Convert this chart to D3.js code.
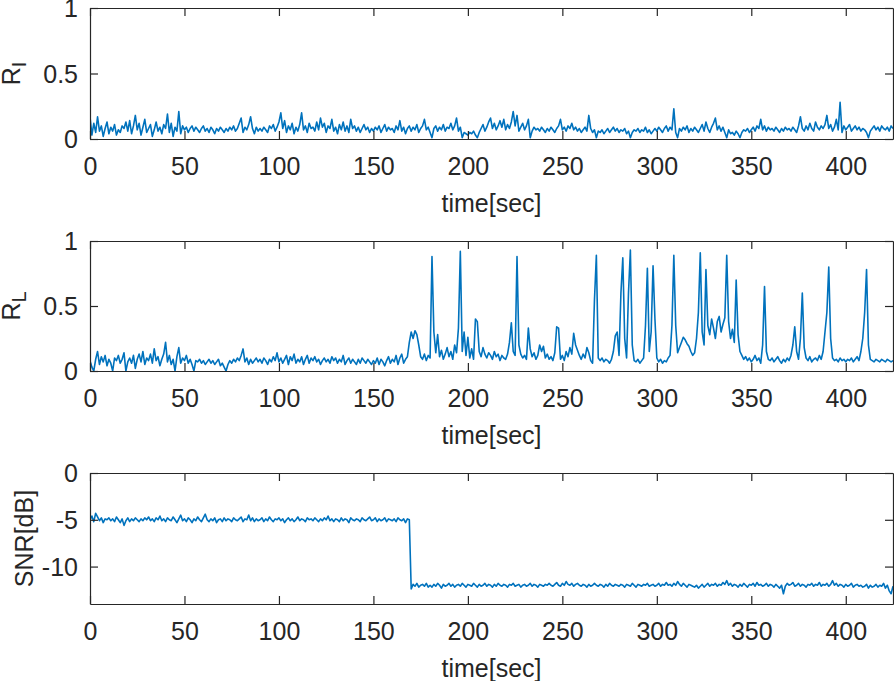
<!DOCTYPE html>
<html><head><meta charset="utf-8">
<script src="https://cdn.jsdelivr.net/npm/d3@7"></script>
<style>
html,body{margin:0;padding:0;background:#fff;}
svg{display:block;font-family:Arial,"Liberation Sans",sans-serif;}
</style></head>
<body><svg id="chart" width="894" height="681"></svg>
<script>
// ---- data (sampled every 1 s, t = 0..425) ----
const xTicks = [0,50,100,150,200,250,300,350,400];
const rTicks = [0,0.5,1];
const snrTicks = [-10,-5,0];
const xLabel = "time[sec]";

const seriesRI = [
0.17,0.03,0.12,0.05,0.17,0.06,0.10,0.02,0.08,0.13,
0.04,0.09,0.06,0.11,0.03,0.07,0.05,0.10,0.08,0.13,
0.06,0.14,0.04,0.10,0.18,0.07,0.12,0.03,0.09,0.15,
0.05,0.08,0.11,0.02,0.07,0.13,0.06,0.09,0.04,0.11,
0.08,0.19,0.05,0.12,0.02,0.09,0.06,0.21,0.04,0.10,
0.07,0.09,0.05,0.08,0.10,0.06,0.09,0.07,0.05,0.08,
0.10,0.06,0.08,0.05,0.09,0.07,0.04,0.08,0.06,0.09,
0.07,0.05,0.08,0.06,0.09,0.07,0.10,0.06,0.08,0.12,
0.16,0.05,0.09,0.07,0.11,0.17,0.08,0.04,0.09,0.06,
0.08,0.06,0.09,0.07,0.05,0.10,0.08,0.11,0.06,0.09,
0.13,0.20,0.08,0.14,0.05,0.10,0.07,0.12,0.04,0.09,
0.06,0.11,0.20,0.07,0.10,0.05,0.12,0.08,0.09,0.06,
0.13,0.07,0.16,0.09,0.12,0.05,0.10,0.08,0.15,0.06,
0.09,0.04,0.11,0.07,0.13,0.06,0.10,0.05,0.15,0.08,
0.10,0.06,0.09,0.05,0.08,0.11,0.07,0.09,0.05,0.08,
0.06,0.09,0.07,0.10,0.05,0.08,0.11,0.06,0.09,0.07,
0.08,0.05,0.10,0.07,0.14,0.06,0.09,0.04,0.08,0.10,
0.06,0.09,0.07,0.11,0.05,0.08,0.10,0.15,0.07,0.09,
0.05,0.01,0.08,0.10,0.06,0.09,0.07,0.11,0.06,0.09,
0.08,0.12,0.07,0.10,0.16,0.06,0.09,0.01,0.05,0.04,
0.03,0.05,0.04,0.06,0.03,0.01,0.05,0.08,0.11,0.06,
0.09,0.13,0.16,0.08,0.12,0.07,0.10,0.14,0.09,0.15,
0.07,0.11,0.08,0.13,0.21,0.10,0.18,0.06,0.09,0.12,
0.07,0.10,0.15,0.01,0.06,0.09,0.07,0.08,0.06,0.09,
0.07,0.05,0.08,0.06,0.09,0.07,0.05,0.08,0.10,0.15,
0.07,0.09,0.06,0.10,0.08,0.12,0.07,0.09,0.06,0.08,
0.05,0.07,0.09,0.06,0.18,0.08,0.05,0.07,0.01,0.06,
0.05,0.07,0.04,0.06,0.08,0.05,0.07,0.09,0.06,0.08,
0.05,0.07,0.06,0.08,0.04,0.06,0.01,0.05,0.07,0.06,
0.08,0.05,0.07,0.06,0.09,0.05,0.07,0.04,0.06,0.08,
0.06,0.09,0.07,0.05,0.08,0.10,0.06,0.09,0.07,0.23,
0.05,0.01,0.08,0.06,0.09,0.07,0.10,0.05,0.08,0.06,
0.09,0.07,0.05,0.08,0.11,0.06,0.13,0.08,0.05,0.09,
0.12,0.16,0.07,0.10,0.06,0.09,0.05,0.01,0.07,0.04,
0.05,0.03,0.06,0.04,0.01,0.05,0.07,0.06,0.08,0.05,
0.07,0.09,0.06,0.10,0.08,0.15,0.07,0.10,0.06,0.09,
0.07,0.08,0.06,0.09,0.07,0.05,0.08,0.06,0.09,0.07,
0.08,0.06,0.09,0.07,0.05,0.10,0.17,0.08,0.06,0.10,
0.07,0.12,0.08,0.06,0.13,0.09,0.07,0.10,0.08,0.11,
0.18,0.08,0.11,0.06,0.09,0.15,0.07,0.28,0.05,0.10,
0.07,0.09,0.11,0.06,0.08,0.10,0.07,0.09,0.06,0.08,
0.07,0.05,0.01,0.06,0.08,0.10,0.07,0.09,0.06,0.10,
0.08,0.07,0.09,0.06,0.10,0.08];

const seriesRL = [
0.08,0.03,0.00,0.09,0.15,0.05,0.11,0.07,0.12,0.04,
0.09,0.06,0.00,0.10,0.08,0.12,0.06,0.09,0.14,0.00,
0.07,0.10,0.06,0.12,0.02,0.09,0.13,0.07,0.15,0.05,
0.10,0.08,0.13,0.06,0.17,0.08,0.11,0.04,0.09,0.13,
0.22,0.07,0.12,0.05,0.09,0.00,0.11,0.18,0.06,0.10,
0.08,0.12,0.06,0.09,0.05,0.00,0.08,0.07,0.09,0.06,
0.08,0.05,0.07,0.09,0.06,0.08,0.05,0.07,0.09,0.04,
0.06,0.03,0.00,0.05,0.08,0.06,0.09,0.07,0.10,0.08,
0.12,0.17,0.07,0.10,0.05,0.09,0.06,0.08,0.10,0.07,
0.09,0.06,0.10,0.08,0.05,0.09,0.07,0.11,0.08,0.14,
0.07,0.10,0.06,0.09,0.12,0.05,0.11,0.08,0.13,0.06,
0.09,0.07,0.11,0.05,0.09,0.12,0.06,0.10,0.08,0.11,
0.07,0.09,0.05,0.08,0.10,0.07,0.09,0.06,0.11,0.08,
0.10,0.06,0.09,0.07,0.12,0.05,0.08,0.10,0.06,0.09,
0.07,0.05,0.09,0.06,0.10,0.08,0.06,0.09,0.07,0.05,
0.08,0.06,0.10,0.05,0.09,0.07,0.04,0.08,0.11,0.06,
0.09,0.07,0.12,0.05,0.10,0.13,0.06,0.09,0.11,0.22,
0.30,0.25,0.31,0.28,0.20,0.11,0.09,0.13,0.08,0.12,
0.10,0.88,0.30,0.14,0.28,0.11,0.16,0.09,0.13,0.18,
0.11,0.15,0.09,0.20,0.14,0.33,0.92,0.15,0.30,0.12,
0.26,0.10,0.17,0.09,0.40,0.38,0.15,0.11,0.18,0.13,
0.10,0.14,0.12,0.09,0.15,0.11,0.13,0.08,0.12,0.10,
0.09,0.13,0.22,0.37,0.15,0.12,0.88,0.20,0.13,0.10,
0.12,0.09,0.33,0.17,0.11,0.14,0.09,0.12,0.20,0.15,
0.19,0.10,0.13,0.09,0.11,0.08,0.14,0.34,0.33,0.09,
0.12,0.08,0.15,0.11,0.18,0.13,0.29,0.20,0.16,0.12,
0.09,0.13,0.10,0.18,0.14,0.08,0.06,0.55,0.89,0.10,
0.08,0.10,0.07,0.09,0.08,0.06,0.09,0.15,0.27,0.30,
0.12,0.60,0.87,0.25,0.10,0.60,0.93,0.20,0.08,0.07,
0.09,0.06,0.08,0.10,0.35,0.79,0.15,0.30,0.81,0.40,
0.10,0.07,0.09,0.06,0.08,0.07,0.10,0.12,0.35,0.89,
0.35,0.14,0.18,0.22,0.26,0.24,0.21,0.19,0.15,0.12,
0.14,0.25,0.45,0.91,0.30,0.20,0.78,0.35,0.28,0.40,
0.33,0.25,0.38,0.42,0.30,0.36,0.41,0.89,0.38,0.25,
0.32,0.22,0.70,0.28,0.15,0.12,0.09,0.11,0.08,0.10,
0.07,0.09,0.12,0.08,0.10,0.06,0.20,0.65,0.15,0.09,
0.08,0.10,0.07,0.09,0.11,0.08,0.06,0.09,0.07,0.10,
0.08,0.12,0.20,0.34,0.15,0.09,0.25,0.60,0.18,0.10,
0.08,0.11,0.07,0.09,0.10,0.08,0.12,0.09,0.15,0.30,
0.45,0.80,0.25,0.10,0.08,0.09,0.07,0.10,0.08,0.09,
0.07,0.09,0.08,0.10,0.07,0.09,0.11,0.08,0.15,0.25,
0.45,0.78,0.20,0.09,0.08,0.07,0.09,0.08,0.07,0.09,
0.08,0.07,0.09,0.08,0.07,0.08];

const seriesSNR = [
-5.0,-4.6,-5.2,-4.3,-4.7,-5.1,-4.8,-5.3,-4.9,-5.0,
-4.8,-5.1,-4.9,-5.2,-4.7,-5.0,-5.3,-4.9,-5.6,-5.1,
-4.8,-5.2,-4.9,-5.1,-4.8,-5.0,-5.2,-4.9,-5.1,-4.8,
-5.0,-4.7,-5.1,-4.9,-5.2,-4.8,-5.0,-4.6,-5.1,-4.9,
-5.2,-4.8,-5.0,-5.1,-4.7,-5.0,-5.3,-4.9,-4.5,-5.1,
-4.9,-5.2,-4.8,-5.0,-5.3,-4.9,-5.1,-4.7,-5.0,-5.2,
-4.8,-4.4,-5.0,-5.2,-4.9,-5.1,-4.8,-5.3,-5.0,-4.9,
-5.2,-4.8,-5.1,-4.9,-5.0,-5.2,-4.8,-5.0,-5.1,-4.9,
-4.7,-5.2,-4.9,-5.0,-4.5,-5.1,-4.8,-5.2,-4.9,-5.1,
-5.0,-4.8,-5.2,-4.9,-5.1,-4.7,-5.0,-5.2,-4.9,-5.0,
-4.8,-5.1,-4.9,-5.3,-5.0,-4.8,-5.1,-4.9,-5.2,-5.0,
-4.7,-5.1,-4.9,-5.0,-5.2,-4.8,-5.0,-4.9,-5.1,-4.8,
-5.0,-5.2,-4.9,-5.1,-4.8,-5.0,-4.6,-5.1,-4.9,-5.2,
-4.9,-5.0,-5.2,-4.8,-5.1,-4.9,-5.0,-5.3,-4.8,-5.0,
-5.1,-4.9,-5.0,-5.2,-4.8,-5.0,-5.1,-4.9,-4.7,-5.1,
-5.0,-4.8,-5.2,-4.9,-5.1,-5.0,-4.8,-5.2,-4.9,-5.0,
-5.1,-4.9,-5.2,-4.8,-5.0,-5.1,-4.9,-5.3,-4.9,-5.0,
-12.4,-11.9,-12.1,-11.8,-12.2,-12.0,-11.9,-12.1,-11.8,-12.2,
-12.0,-12.2,-11.9,-12.1,-11.8,-12.0,-12.3,-11.9,-12.1,-12.0,
-11.8,-12.1,-11.9,-12.2,-12.0,-11.9,-12.1,-11.8,-12.0,-12.2,
-11.9,-12.0,-12.1,-11.8,-12.0,-12.2,-11.9,-12.1,-12.0,-11.8,
-12.1,-11.9,-12.0,-12.2,-11.9,-12.1,-11.8,-12.0,-12.1,-11.9,
-12.0,-12.2,-11.9,-12.0,-11.8,-12.1,-12.0,-11.9,-12.2,-12.0,
-11.9,-12.1,-12.0,-11.8,-12.1,-11.9,-12.0,-12.2,-11.9,-12.0,
-12.1,-11.9,-12.0,-11.8,-12.0,-12.1,-11.9,-11.7,-12.0,-12.1,
-11.8,-12.0,-11.6,-11.9,-12.0,-11.8,-12.1,-11.9,-11.8,-12.0,
-12.1,-11.9,-12.0,-12.2,-11.9,-12.1,-12.0,-11.8,-12.0,-12.1,
-11.9,-12.0,-12.2,-11.9,-12.1,-11.8,-12.0,-12.1,-11.9,-12.0,
-12.1,-11.9,-12.0,-12.2,-11.9,-12.0,-12.1,-11.8,-12.0,-12.2,
-11.9,-12.0,-12.1,-11.9,-12.0,-11.8,-12.1,-12.0,-11.9,-12.1,
-12.0,-11.8,-12.1,-11.9,-12.0,-11.7,-12.0,-11.9,-12.1,-11.8,
-12.0,-11.6,-11.9,-12.1,-11.8,-12.0,-12.2,-11.9,-12.0,-12.1,
-12.2,-12.0,-12.3,-12.1,-11.9,-12.2,-12.0,-11.8,-12.1,-11.9,
-12.0,-11.8,-12.1,-11.9,-12.0,-11.7,-11.9,-11.5,-12.0,-11.8,
-12.1,-11.9,-12.0,-12.2,-11.9,-12.1,-11.8,-12.0,-12.2,-11.9,
-12.0,-11.8,-12.1,-11.7,-12.0,-11.9,-12.1,-12.0,-11.8,-12.1,
-11.9,-12.0,-12.2,-11.9,-12.1,-12.3,-12.0,-12.9,-12.1,-11.8,
-12.0,-11.9,-11.7,-12.1,-12.0,-11.8,-12.1,-11.9,-12.0,-12.2,
-11.9,-12.0,-11.8,-12.1,-11.9,-12.0,-11.7,-12.1,-11.9,-12.0,
-11.8,-12.1,-11.9,-11.5,-12.0,-11.8,-12.1,-11.9,-12.0,-12.2,
-11.9,-12.1,-12.0,-11.8,-12.2,-12.0,-11.9,-12.1,-12.0,-12.2,
-12.1,-11.9,-12.3,-12.0,-12.2,-12.1,-11.9,-12.2,-12.0,-12.1,
-11.8,-12.3,-12.0,-12.6,-12.9,-12.1];

const timeStep = 1; // seconds between samples
const xDomain = [0, 425];

// ---- drawing ----
const svg = d3.select("#chart");
const INK = "#262626", LINE = "#0072BD", FS = 25;
const left = 90, right = 893;
const x = d3.scaleLinear().domain(xDomain).range([left, right]);

const panels = [
  {top: 8,   bottom: 139, domain: [0,1],    ticks: rTicks,   data: seriesRI,  label: ["R","I"]},
  {top: 241, bottom: 371, domain: [0,1],    ticks: rTicks,   data: seriesRL,  label: ["R","L"]},
  {top: 473, bottom: 604, domain: [-14,0],  ticks: snrTicks, data: seriesSNR, label: ["SNR[dB]"]}
];

panels.forEach((p) => {
  const y = d3.scaleLinear().domain(p.domain).range([p.bottom, p.top]);
  const g = svg.append("g");
  const clipId = "clip" + p.top;
  g.append("clipPath").attr("id", clipId).append("rect")
    .attr("x", left).attr("y", p.top).attr("width", right-left).attr("height", p.bottom-p.top);

  const line = d3.line().x((d,i) => x(i*timeStep)).y(d => y(d));
  g.append("path").datum(p.data).attr("d", line)
    .attr("fill","none").attr("stroke",LINE).attr("stroke-width",1.6)
    .attr("stroke-linejoin","round").attr("clip-path",`url(#${clipId})`);

  const fmt = d => String(d);
  const gb = g.append("g").attr("transform",`translate(0,${p.bottom})`)
    .call(d3.axisBottom(x).tickValues(xTicks).tickFormat(fmt).tickSizeInner(-8).tickSizeOuter(0).tickPadding(18));
  const gt = g.append("g").attr("transform",`translate(0,${p.top})`)
    .call(d3.axisTop(x).tickValues(xTicks).tickFormat("").tickSizeInner(-8).tickSizeOuter(0));
  const gl = g.append("g").attr("transform",`translate(${left},0)`)
    .call(d3.axisLeft(y).tickValues(p.ticks).tickFormat(fmt).tickSizeInner(-8).tickSizeOuter(0).tickPadding(12));
  const gr = g.append("g").attr("transform",`translate(${right},0)`)
    .call(d3.axisRight(y).tickValues(p.ticks).tickFormat("").tickSizeInner(-8).tickSizeOuter(0));

  [gb,gt,gl,gr].forEach(a => {
    a.selectAll(".domain").attr("stroke",INK).attr("stroke-width",1.2);
    a.selectAll(".tick line").attr("stroke",INK).attr("stroke-width",1.2);
    a.selectAll("text").attr("fill",INK).attr("font-size",FS).attr("font-family","Arial, 'Liberation Sans', sans-serif");
  });
  gl.selectAll("text").attr("dy","0.34em");

  g.append("text").attr("x",(left+right)/2).attr("y",p.bottom+73)
    .attr("text-anchor","middle").attr("fill",INK).attr("font-size",FS).text(xLabel);

  const yl = g.append("text")
    .attr("transform",`translate(${p.label.length>1?20:33},${(p.top+p.bottom)/2}) rotate(-90)`)
    .attr("text-anchor","middle").attr("fill",INK).attr("font-size",FS);
  yl.append("tspan").text(p.label[0]);
  if (p.label.length > 1) {
    yl.append("tspan").attr("dy","0.3em").attr("font-size",FS*0.8).text(p.label[1]);
  }
});
</script></body></html>
